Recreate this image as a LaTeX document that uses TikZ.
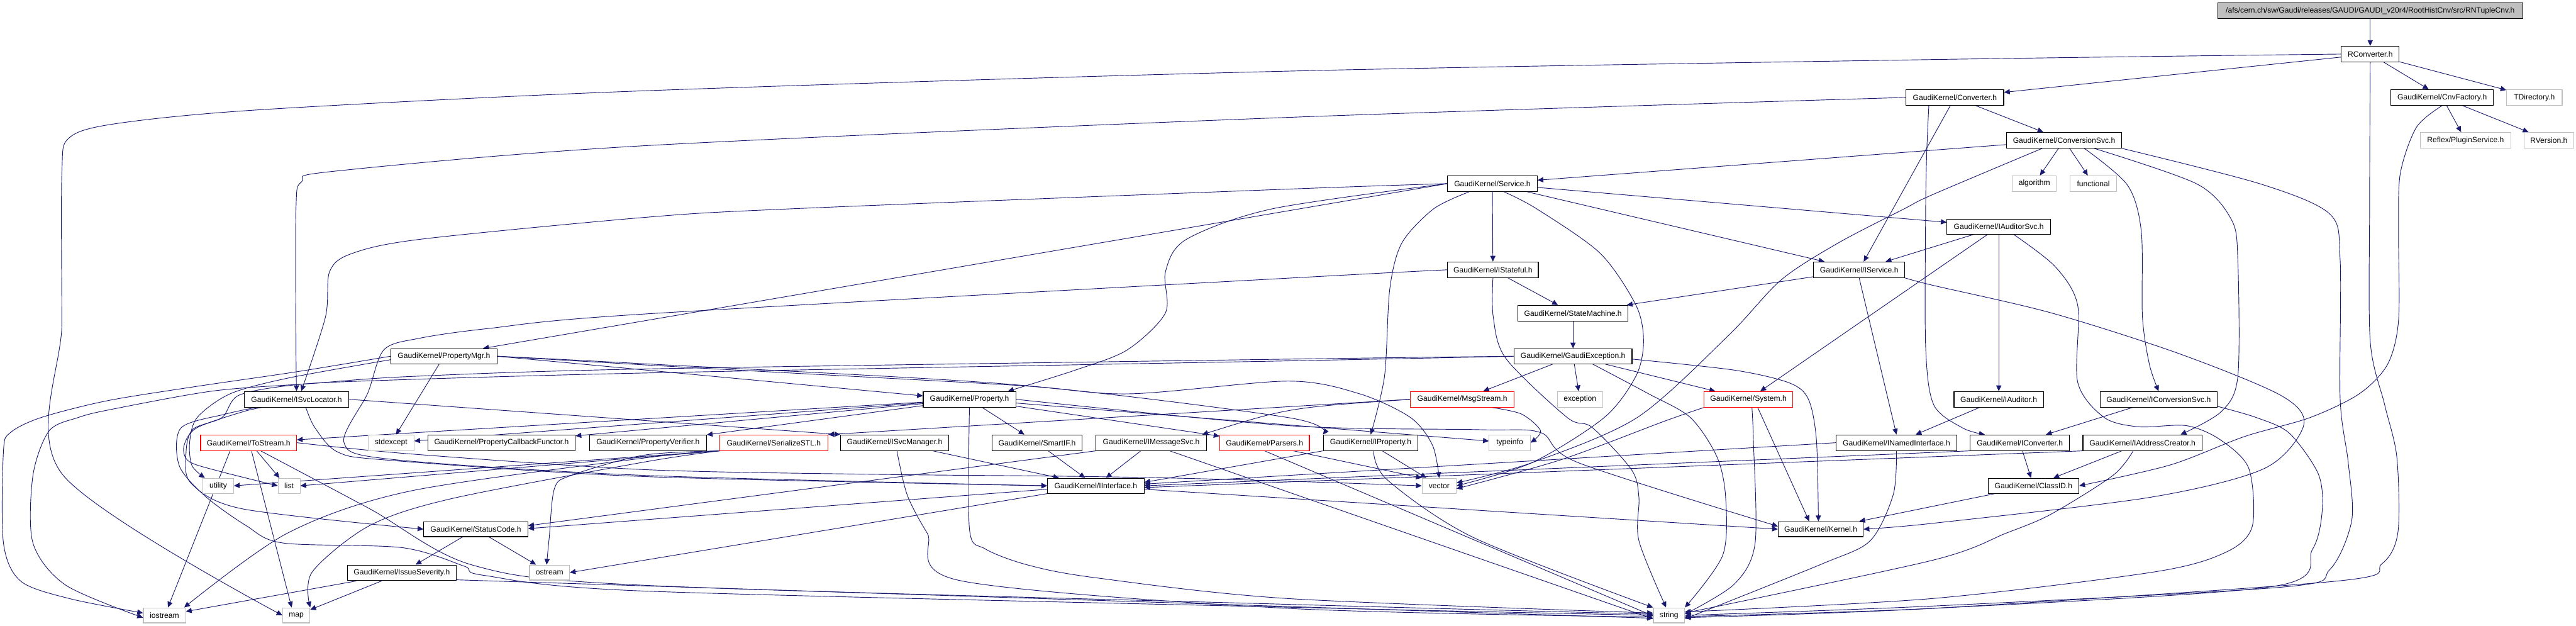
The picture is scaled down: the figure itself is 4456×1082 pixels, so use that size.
\documentclass[tikz,border=0pt]{standalone}
\usepackage{fontspec}
\setmainfont{Liberation Sans}
\usetikzlibrary{arrows.meta,calc}
\pgfdeclarelayer{bg}
\pgfsetlayers{bg,main}
\definecolor{edgec}{RGB}{25,25,112}
\definecolor{grayb}{RGB}{191,191,191}
\newcommand{\gnode}[7]{\node[#1, minimum width={(#5-#3)*0.5pt}, minimum height={(#6-#4)*0.5pt}] (#2) at ({(#3+#5)/2},{(#4+#6)/2}) {#7};}
\begin{document}
\begin{tikzpicture}[x=0.5pt,y=-0.5pt,
  nbox/.style={draw=black, line width=0.6pt, fill=white, inner sep=0pt, font=\fontsize{6.6}{8}\selectfont},
  gnb/.style={nbox, draw=grayb},
  rnb/.style={nbox, draw=red},
  tnb/.style={nbox, fill=grayb},
  dep/.style={draw=edgec, line width=0.5pt, -{Triangle[length=5pt,width=4.5pt]}},
  sm/.style={smooth, tension=0.5}]
\useasboundingbox (0,0) rectangle (4456,1082);
% nodes
\gnode{tnb}{top}{3836}{5}{4364}{32}{/afs/cern.ch/sw/Gaudi/releases/GAUDI/GAUDI\_v20r4/RootHistCnv/src/RNTupleCnv.h}
\gnode{nbox}{rconv}{4050}{80}{4150}{107}{RConverter.h}
\gnode{nbox}{conv}{3297}{155}{3466}{182}{GaudiKernel/Converter.h}
\gnode{nbox}{cnvf}{4136}{155}{4313}{182}{GaudiKernel/CnvFactory.h}
\gnode{gnb}{tdir}{4336}{155}{4432}{182}{TDirectory.h}
\gnode{nbox}{csvc}{3471}{229}{3670}{256}{GaudiKernel/ConversionSvc.h}
\gnode{gnb}{plug}{4187}{229}{4343}{256}{Reflex/PluginService.h}
\gnode{gnb}{rver}{4366}{229}{4452}{256}{RVersion.h}
\gnode{gnb}{algo}{3481}{304}{3557}{331}{algorithm}
\gnode{gnb}{func}{3581}{304}{3661}{331}{functional}
\gnode{nbox}{svc}{2504}{304}{2659}{331}{GaudiKernel/Service.h}
\gnode{nbox}{iaudsvc}{3368}{379}{3547}{405}{GaudiKernel/IAuditorSvc.h}
\gnode{nbox}{istate}{2504}{453}{2661}{480}{GaudiKernel/IStateful.h}
\gnode{nbox}{iservice}{3137}{453}{3295}{480}{GaudiKernel/IService.h}
\gnode{nbox}{smach}{2626}{528}{2816}{555}{GaudiKernel/StateMachine.h}
\gnode{nbox}{gexc}{2619}{603}{2823}{629}{GaudiKernel/GaudiException.h}
\gnode{nbox}{pmgr}{676}{603}{860}{629}{GaudiKernel/PropertyMgr.h}
\gnode{nbox}{isvcloc}{423}{677}{603}{704}{GaudiKernel/ISvcLocator.h}
\gnode{nbox}{prop}{1597}{677}{1757}{704}{GaudiKernel/Property.h}
\gnode{rnb}{msg}{2440}{677}{2619}{704}{GaudiKernel/MsgStream.h}
\gnode{gnb}{exc}{2694}{677}{2772}{704}{exception}
\gnode{rnb}{sys}{2948}{677}{3101}{704}{GaudiKernel/System.h}
\gnode{nbox}{iaud}{3380}{677}{3535}{704}{GaudiKernel/IAuditor.h}
\gnode{nbox}{iconvsvc}{3633}{677}{3835}{704}{GaudiKernel/IConversionSvc.h}
\gnode{rnb}{tostr}{347}{752}{513}{779}{GaudiKernel/ToStream.h}
\gnode{gnb}{stdexc}{637}{752}{716}{779}{stdexcept}
\gnode{nbox}{pcb}{740}{752}{995}{779}{GaudiKernel/PropertyCallbackFunctor.h}
\gnode{nbox}{pver}{1020}{752}{1222}{779}{GaudiKernel/PropertyVerifier.h}
\gnode{rnb}{ser}{1245}{752}{1432}{779}{GaudiKernel/SerializeSTL.h}
\gnode{nbox}{isvcmgr}{1454}{752}{1641}{779}{GaudiKernel/ISvcManager.h}
\gnode{nbox}{smartif}{1716}{752}{1872}{779}{GaudiKernel/SmartIF.h}
\gnode{nbox}{imsg}{1896}{752}{2087}{779}{GaudiKernel/IMessageSvc.h}
\gnode{rnb}{pars}{2110}{752}{2265}{779}{GaudiKernel/Parsers.h}
\gnode{nbox}{iprop}{2289}{752}{2453}{779}{GaudiKernel/IProperty.h}
\gnode{gnb}{tinfo}{2576}{752}{2647}{779}{typeinfo}
\gnode{nbox}{inamed}{3176}{752}{3385}{779}{GaudiKernel/INamedInterface.h}
\gnode{nbox}{iconv}{3408}{752}{3580}{779}{GaudiKernel/IConverter.h}
\gnode{nbox}{iaddr}{3603}{752}{3809}{779}{GaudiKernel/IAddressCreator.h}
\gnode{gnb}{util}{351}{827}{404}{853}{utility}
\gnode{gnb}{list}{481}{827}{519}{853}{list}
\gnode{gnb}{vec}{2460}{827}{2519}{853}{vector}
\gnode{nbox}{iint}{1812}{827}{1979}{853}{GaudiKernel/IInterface.h}
\gnode{nbox}{clsid}{3439}{827}{3596}{853}{GaudiKernel/ClassID.h}
\gnode{nbox}{sc}{733}{902}{913}{928}{GaudiKernel/StatusCode.h}
\gnode{nbox}{kern}{3076}{902}{3223}{928}{GaudiKernel/Kernel.h}
\gnode{nbox}{isev}{601}{977}{789}{1004}{GaudiKernel/IssueSeverity.h}
\gnode{gnb}{ostr}{916}{977}{985}{1003}{ostream}
\gnode{gnb}{iostr}{248}{1051}{321}{1077}{iostream}
\gnode{gnb}{map}{489}{1051}{536}{1077}{map}
\gnode{gnb}{str}{2860}{1051}{2914}{1077}{string}
\begin{pgfonlayer}{bg}
\fill[white] (0,0) rectangle (4456,1082);
% RConverter
\draw[dep] (top) -- (rconv);
\draw[dep] (rconv) -- (conv);
\draw[dep] (rconv) -- (cnvf);
\draw[dep] (rconv) -- (tdir);
\draw[dep] plot[sm] coordinates {(rconv.west) (3342,103) (2228,123) (1114,157) (462,189) (206,213) (120,238) (107,300) (107,560) (107,819) (map.west)};
\draw[dep] plot[sm] coordinates {(rconv.south) (4099,350) (4100,590) (4125,700) (4146,790) (4148,920) (4120,975) (4040,1005) (3342,1052) ($(str.east)+(0,4)$)};
% Converter
\draw[dep] (conv) -- (csvc);
\draw[dep] plot[sm] coordinates {(conv.west) (2228,203) (1114,252) (579,296) (522,314) (512,360) (512,600) (isvcloc.north)};
\draw[dep] (conv) -- (iservice);
\draw[dep] plot[sm] coordinates {($(conv.south)+(-45,0)$) (3333,260) (3331,361) (3331,600) (3345,700) (3395,740) ($(iconv.north west)+(26,0)$)};
% CnvFactory
\draw[dep] (cnvf) -- (plug);
\draw[dep] (cnvf) -- (rver);
\draw[dep] plot[sm] coordinates {(cnvf.south) (4180,220) (4152,300) (4149,400) (4149,554) (4130,630) (4081,681) (3996,722) (3882,755) (3754,804) (clsid.east)};
% ConversionSvc
\draw[dep] (csvc) -- (algo);
\draw[dep] (csvc) -- (func);
\draw[dep] (csvc) -- (svc);
\draw[dep] plot[sm] coordinates {($(csvc.south)+(35,0)$) (3680,320) (3704,400) (3706,548) (3718,630) (iconvsvc.north)};
\draw[dep] plot[sm] coordinates {($(csvc.south)+(52,0)$) (3800,318) (3860,380) (3871,450) (3871,651) (3842,712) ($(iaddr.north)+(66,0)$)};
\draw[dep] plot[sm] coordinates {($(csvc.south)+(-38,0)$) (3342,337) (3294,361) (3180,420) (3081,484) (2990,580) (2832,722) (2650,800) ($(vec.east)+(0,-5)$)};
\draw[dep] plot[sm] coordinates {(csvc.south east) (3910,318) (4030,370) (4048,450) (4048,690) (4062,800) (4068,900) (4030,985) (3950,1015) (3342,1048) (str.east)};
% Service
\draw[dep] (svc) -- (istate);
\draw[dep] (svc) -- (iservice);
\draw[dep] (svc) -- (iaudsvc);
\draw[dep] plot[sm] coordinates {(svc.west) (2228,327) (1370,361) (1114,376) (725,414) (607,439) (570,470) (563,548) (isvcloc.60)};
\draw[dep] (svc.west) -- ($(pmgr.north east)+(-25,0)$);
\draw[dep] plot[sm] coordinates {(svc.west) (2201,361) (2052,414) (2016,470) (2016,541) (1950,605) (1860,640) ($(prop.north east)+(-14,0)$)};
\draw[dep] plot[sm] coordinates {($(svc.south)+(-40,0)$) (2480,361) (2425,420) (2404,500) (2395,650) (iprop.north)};
\draw[dep] plot[sm] coordinates {($(svc.south)+(20,0)$) (2658,361) (2768,438) (2830,528) (2843,590) (2830,650) (2775,722) (2650,800) (vec.east)};
% IStateful
\draw[dep] (istate) -- (smach);
\draw[dep] plot[sm] coordinates {(istate.west) (2228,481) (1114,543) (845,568) (725,585) (664,605) (636,680) (595,765) (675,794) (1114,822) (iint.west)};
\draw[dep] plot[sm] coordinates {(istate.south) (2583,548) (2605,620) (2711,722) (2754,739) (2822,812) (2835,860) (2835,935) (str.110)};
% IService
\draw[dep] (iservice) -- (smach);
\draw[dep] (iservice.south) -- (inamed.north);
\draw[dep] plot[sm] coordinates {(iservice.south east) (3342,493) (3548,541) (3768,611) (3946,684) (3985,735) (3917,810) (3719,860) (3342,905) (kern.east)};
% IAuditorSvc
\draw[dep] (iaudsvc) -- (iservice);
\draw[dep] (iaudsvc) -- (sys);
\draw[dep] (iaudsvc) -- (iaud);
\draw[dep] plot[sm] coordinates {($(iaudsvc.south)+(26,0)$) (3555,461) (3594,528) (3594,661) (3640,722) (3700,738) (3782,736) (3840,760) (3890,810) (3896,910) (3850,955) (3726,989) (3342,1035) ($(str.east)+(0,-6)$)};
% StateMachine, GaudiException
\draw[dep] (smach) -- (gexc);
\draw[dep] (gexc) -- (msg);
\draw[dep] (gexc) -- (exc);
\draw[dep] (gexc) -- (sys);
\draw[dep] plot[sm] coordinates {($(gexc.east)+(0,5)$) (3000,640) (3095,662) (3128,690) (3142,760) ($(kern.north)+(-4,0)$)};
\draw[dep] plot[sm] coordinates {($(gexc.south)+(34,0)$) (2850,680) (2924,722) (2970,790) (2985,860) (2980,960) (str.north east)};
\draw[dep] plot[sm] coordinates {(gexc.west) (2228,621) (1114,638) (710,651) (540,663) (369,676) (192,708) (135,722) (85,745) (57,822) (57,939) (114,1012) ($(iostr.west)+(0,4)$)};
\draw[dep] plot[sm] coordinates {(gexc.west) (2228,624) (1114,645) (625,659) (497,667) (412,684) (384,722) (334,742) (322,780) (330,835) (420,880) (sc.west)};
% PropertyMgr
\draw[dep] (pmgr.east) -- ($(prop.west)+(0,-6)$);
\draw[dep] (pmgr) -- (stdexc);
\draw[dep] plot[sm] coordinates {(pmgr.east) (1114,629) (1753,665) (2228,722) (iprop.north west)};
\draw[dep] plot[sm] coordinates {(pmgr.east) (1221,637) (1753,666) (1952,681) (2228,659) (2352,681) (2440,722) (2478,770) (vec.north)};
\draw[dep] plot[sm] coordinates {(pmgr.west) (512,643) (341,668) (185,693) (71,722) (18,748) (6,780) (6,939) (36,1005) (120,1035) ($(iostr.west)+(0,-4)$)};
\draw[dep] plot[sm] coordinates {($(pmgr.west)+(0,6)$) (497,654) (398,681) (341,722) (328,765) (332,805) ($(util.north west)+(4,0)$)};
% ISvcLocator
\draw[dep] plot[sm] coordinates {($(isvcloc.south)+(16,0)$) (545,740) (585,782) (675,796) (1114,824) (iint.west)};
\draw[dep] (isvcloc.east) -- (isvcmgr.north west);
\draw[dep] plot[sm] coordinates {($(isvcloc.south)+(-60,0)$) (420,712) (340,740) (318,772) (327,798) (380,815) (list.west)};
\draw[dep] plot[sm] coordinates {($(isvcloc.south)+(-70,0)$) (390,716) (313,740) (310,805) (355,858) (426,909) (490,939) (696,947) (803,979) (838,995) (1114,1022) (2228,1050) (str.west)};
% Property
\draw[dep] (prop) -- (tostr);
\draw[dep] (prop) -- (stdexc);
\draw[dep] (prop) -- (pcb);
\draw[dep] (prop) -- (pver);
\draw[dep] (prop) -- (smartif);
\draw[dep] (prop) -- (tinfo);
\draw[dep] (prop) -- (pars);
\draw[dep] plot[sm] coordinates {(prop.south) (1677,915) (1704,949) (1778,977) (1895,999) (2228,1035) ($(str.west)+(0,-4)$)};
\draw[dep] plot[sm] coordinates {(prop.east) (2228,736) (2560,743) (2665,748) (2730,800) ($(kern.west)+(0,-5)$)};
% MsgStream
\draw[dep] (msg.west) .. controls (2228,705) .. ($(imsg.north east)+(-8,0)$);
\draw[dep] (msg.west) -- (ser.north east);
\draw[dep] plot[sm] coordinates {($(msg.south)+(51,0)$) (2632,716) (2665,745) (tinfo.east)};
% System
\draw[dep] ($(sys.south)+(16,0)$) -- ($(kern.north)+(-20,0)$);
\draw[dep] plot[sm] coordinates {(sys.south west) (2880,728) (2700,795) ($(vec.east)+(0,5)$)};
\draw[dep] plot[sm] coordinates {($(sys.south)+(6,0)$) (3033,760) (3036,939) (3000,1010) ($(str.east)+(0,-2)$)};
% IAuditor, IConversionSvc
\draw[dep] (iaud) -- (inamed);
\draw[dep] (iconvsvc) -- (iconv);
\draw[dep] plot[sm] coordinates {($(iconvsvc.south east)+(0,-2)$) (3903,722) (3960,749) (4010,819) (4017,882) (4000,950) (3932,1014) (3342,1052) ($(str.east)+(0,2)$)};
% ToStream
\draw[dep] ($(tostr.south)+(14,0)$) -- ($(list.north west)+(3,0)$);
\draw[dep] ($(tostr.south)+(5,0)$) -- ($(map.north)+(-8,0)$);
\draw[dep] ($(tostr.south)+(-32,0)$) -- ($(iostr.north)+(6,0)$);
\draw[dep] plot[sm] coordinates {($(tostr.south)+(21,0)$) (640,880) (817,977) (1114,1012) (2228,1045) ($(str.west)+(0,-2)$)};
\draw[dep] plot[sm] coordinates {(tostr.east) (711,785) (1114,812) (1500,820) (1800,823) (2000,826) (2228,832) (vec.west)};
% SerializeSTL
\draw[dep] (ser.south west) -- (util.east);
\draw[dep] (ser.south west) -- (list.east);
\draw[dep] plot[sm] coordinates {(ser.south west) (1114,787) (988,822) (959,845) (950,930) ($(ostr.north)+(-5,0)$)};
\draw[dep] plot[sm] coordinates {(ser.south west) (1114,799) (782,862) (639,909) (540,989) (map.north east)};
\draw[dep] plot[sm] coordinates {(ser.south west) (1114,792) (710,849) (497,922) ($(iostr.north east)+(-3,0)$)};
% ISvcManager, SmartIF, IMessageSvc
\draw[dep] (isvcmgr) -- (iint);
\draw[dep] plot[sm] coordinates {($(isvcmgr.south)+(4,0)$) (1569,855) (1604,922) (1661,1004) (2228,1052) ($(str.west)+(0,3)$)};
\draw[dep] (smartif) -- (iint);
\draw[dep] (imsg) -- (iint);
\draw[dep] ($(imsg.south)+(32,0)$) -- ($(str.west)+(0,6)$);
\draw[dep] (imsg.south west) -- ($(sc.east)+(0,-6)$);
% Parsers, IProperty
\draw[dep] ($(pars.south)+(50,0)$) -- (vec.north west);
\draw[dep] (pars.south) -- ($(str.west)+(0,1)$);
\draw[dep] (iprop.south west) -- ($(iint.east)+(0,-6)$);
\draw[dep] ($(iprop.south)+(20,0)$) -- ($(vec.north west)+(8,0)$);
\draw[dep] plot[sm] coordinates {($(iprop.south)+(5,0)$) (2400,830) (2550,930) (str.north west)};
% INamedInterface, IConverter, IAddressCreator, ClassID
\draw[dep] (inamed.west) -- ($(iint.east)+(0,-3)$);
\draw[dep] plot[sm] coordinates {(inamed.south) (3275,855) (3235,935) (3152,975) ($(str.east)+(0,6)$)};
\draw[dep] (iconv.south west) -- (iint.east);
\draw[dep] (iconv) -- (clsid);
\draw[dep] (iaddr.south west) -- ($(iint.east)+(0,3)$);
\draw[dep] (iaddr) -- (clsid);
\draw[dep] plot[sm] coordinates {($(iaddr.south)+(-16,0)$) (3655,822) (3548,889) (3470,922) (3342,969) ($(str.east)+(0,-4)$)};
\draw[dep] (clsid) -- (kern);
% IInterface, StatusCode, IssueSeverity
\draw[dep] ($(iint.west)+(0,6)$) -- ($(sc.east)+(0,-1)$);
\draw[dep] (iint.south west) -- (ostr.east);
\draw[dep] ($(iint.east)+(0,6)$) -- (kern.west);
\draw[dep] (sc) -- (isev);
\draw[dep] (sc) -- (ostr);
\draw[dep] (isev) -- (iostr);
\draw[dep] (isev) -- (map);
\draw[dep] ($(isev.south east)+(0,-2)$) -- ($(str.west)+(0,5)$);
\end{pgfonlayer}
\end{tikzpicture}
\end{document}
